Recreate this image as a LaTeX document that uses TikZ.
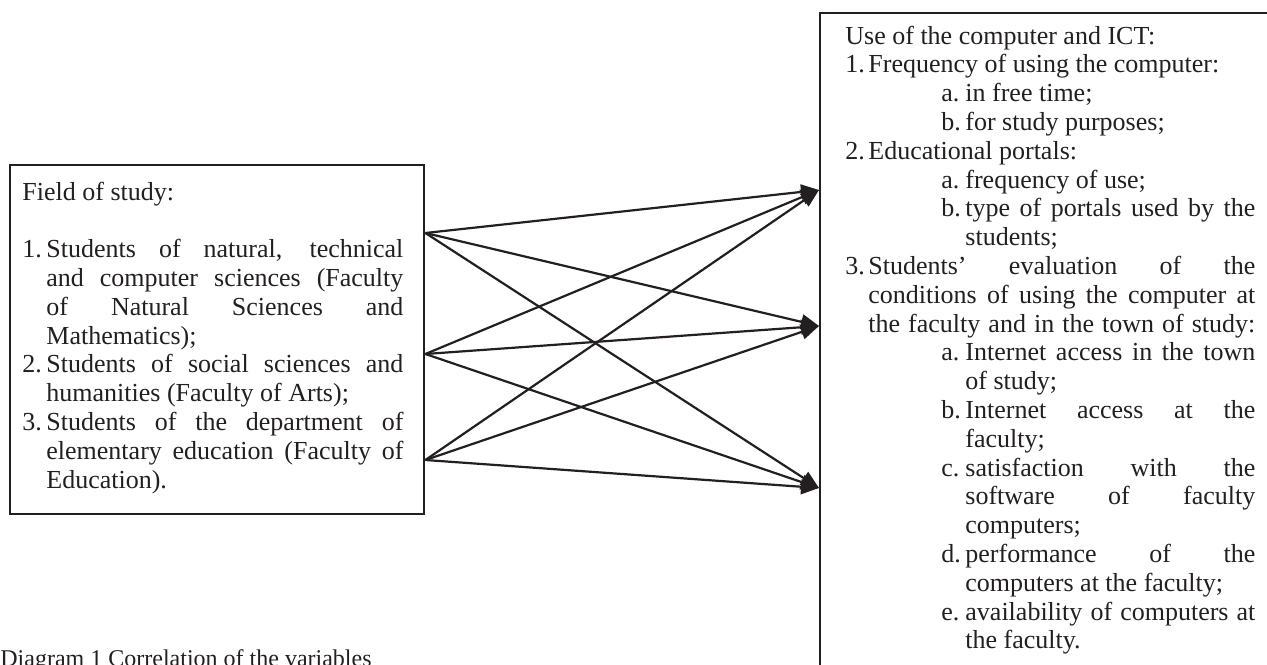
\documentclass[tikz,border=0pt]{standalone}
\usepackage{fontspec}
\setmainfont{Liberation Serif}
\usetikzlibrary{arrows.meta,calc}
\definecolor{ink}{RGB}{35,31,32}
\newcommand{\lblA}[1]{\hbox to 12pt{#1\hss}}
\newcommand{\lblB}[1]{\hbox to 11.5pt{#1\hss}}
\newcommand{\jus}[2]{\hbox to #1{#2}}
\tikzset{
  frame/.style={draw=ink, line width=1.2pt, inner sep=0pt, anchor=north west},
  txt/.style={inner sep=0pt, anchor=base west, text=ink, font=\fontsize{13}{14.4}\selectfont},
  link/.style={draw=ink, line width=1.1pt, -{Triangle[length=9pt,width=7.5pt]}}
}
\begin{document}
\begin{tikzpicture}[x=0.5pt,y=-0.5pt]
\useasboundingbox (0,0) rectangle (1267,664);
\clip (0,0) rectangle (1267,664);
% boxes
\node[frame, minimum width=207pt, minimum height=174.5pt] (field) at (9,164) {};
\node[frame, minimum width=240pt, minimum height=360pt] (use) at (819,12) {};
% left text
\node[txt] (fieldtxt) at (22,200) {\vtop{\baselineskip=14.4pt
\hbox{Field of study:}
\hbox{}
\hbox{\lblA{1.}\jus{178.5pt}{Students of natural, technical}}
\hbox{\kern12pt\jus{178.5pt}{and computer sciences (Faculty}}
\hbox{\kern12pt\jus{178.5pt}{of Natural Sciences and}}
\hbox{\kern12pt Mathematics);}
\hbox{\lblA{2.}\jus{178.5pt}{Students of social sciences and}}
\hbox{\kern12pt humanities (Faculty of Arts);}
\hbox{\lblA{3.}\jus{178.5pt}{Students of the department of}}
\hbox{\kern12pt\jus{178.5pt}{elementary education (Faculty of}}
\hbox{\kern12pt Education).}
}};
% right text
\node[txt] (usetxt) at (845,44) {\vtop{\baselineskip=14.4pt
\hbox{Use of the computer and ICT:}
\hbox{\lblB{1.}Frequency of using the computer:}
\hbox{\kern48pt\lblA{a.}in free time;}
\hbox{\kern48pt\lblA{b.}for study purposes;}
\hbox{\lblB{2.}Educational portals:}
\hbox{\kern48pt\lblA{a.}frequency of use;}
\hbox{\kern48pt\lblA{b.}\jus{145pt}{type of portals used by the}}
\hbox{\kern60pt students;}
\hbox{\lblB{3.}\jus{193.5pt}{Students’ evaluation of the}}
\hbox{\kern11.5pt\jus{193.5pt}{conditions of using the computer at}}
\hbox{\kern11.5pt\jus{193.5pt}{the faculty and in the town of study:}}
\hbox{\kern48pt\lblA{a.}\jus{145pt}{Internet access in the town}}
\hbox{\kern60pt of study;}
\hbox{\kern48pt\lblA{b.}\jus{145pt}{Internet access at the}}
\hbox{\kern60pt faculty;}
\hbox{\kern48pt\lblA{c.}\jus{145pt}{satisfaction with the}}
\hbox{\kern60pt\jus{145pt}{software of faculty}}
\hbox{\kern60pt computers;}
\hbox{\kern48pt\lblA{d.}\jus{145pt}{performance of the}}
\hbox{\kern60pt computers at the faculty;}
\hbox{\kern48pt\lblA{e.}\jus{145pt}{availability of computers at}}
\hbox{\kern60pt the faculty.}
}};
% caption
\node[txt, font=\fontsize{12}{13}\selectfont] (caption) at (0,666) {Diagram 1 Correlation of the variables};
% connection points
\coordinate (s1) at ($(field.north east)+(0,69)$);
\coordinate (s2) at ($(field.north east)+(0,190)$);
\coordinate (s3) at ($(field.north east)+(0,296)$);
\coordinate (t1) at ($(use.north west)+(0,178)$);
\coordinate (t2) at ($(use.north west)+(0,314)$);
\coordinate (t3) at ($(use.north west)+(0,476)$);
\foreach \s in {s1,s2,s3}{
  \foreach \t in {t1,t2,t3}{
    \draw[link] (\s) -- (\t);
  }
}
\end{tikzpicture}
\end{document}
